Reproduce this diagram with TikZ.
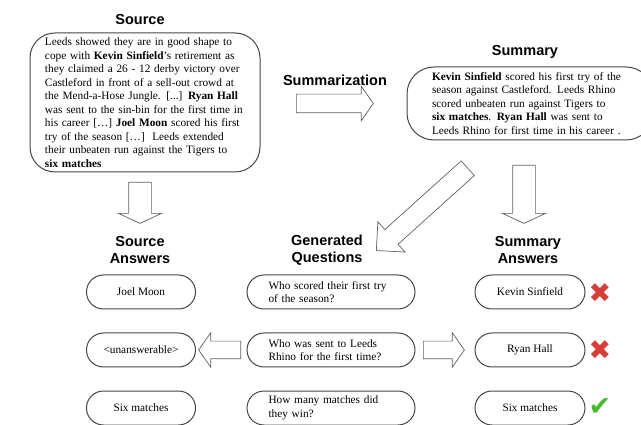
\documentclass[tikz,border=0pt]{standalone}
\usepackage{fontspec}
\setmainfont{Liberation Serif}
\newfontfamily\headfont{Liberation Sans}
\newfontfamily\symbfont{DejaVu Sans}
\usetikzlibrary{shapes.misc,shapes.arrows,positioning}
\definecolor{edge}{RGB}{70,70,70}
\definecolor{wrong}{RGB}{214,62,56}
\definecolor{okgreen}{RGB}{72,184,44}

\begin{document}
\begin{tikzpicture}[x=1pt,y=-1pt,
  title/.style={font=\headfont\bfseries\fontsize{14.5}{16.5}\selectfont,align=center,inner sep=0pt},
  body/.style={font=\fontsize{11.3}{13.5}\selectfont},
  bigbox/.style={rectangle,draw=edge,line width=1pt,align=left,inner sep=0pt,body},
  pill/.style={rounded rectangle,draw=edge,line width=1pt,minimum height=34pt,inner sep=0pt,body},
  blockarrow/.style={single arrow,draw=edge!85,line width=0.7pt,fill=white,inner xsep=0pt,anchor=tail},
  verdict/.style={font=\symbfont\fontsize{27}{27}\selectfont,inner sep=0pt}]
  \useasboundingbox (0,0) rectangle (641,425);

  % top row
  \node[title] (srctitle) at (140,20) {Source};
  \node[bigbox,minimum width=230pt,minimum height=139pt,rounded corners=25pt,text width=200pt] (src) at (145,102.5)
    {Leeds showed they are in good shape to\\
     cope with \textbf{Kevin Sinfield}'s retirement as\\
     they claimed a 26 - 12 derby victory over\\
     Castleford in front of a sell-out crowd at\\
     the Mend-a-Hose Jungle. [...] \textbf{Ryan Hall}\\
     was sent to the sin-bin for the first time in\\
     his career […] \textbf{Joel Moon} scored his first\\
     try of the season […]\ \ Leeds extended\\
     their unbeaten run against the Tigers to\\
     \textbf{six matches}};
  \node[title] (sumtitle) at (335,80) {Summarization};
  \node[title] (summtitle) at (525,52) {Summary};
  \node[bigbox,minimum width=246pt,minimum height=73pt,rounded corners=27pt,text width=196pt] (summ) at (530,103.5)
    {\textbf{Kevin Sinfield} scored his first try of the\\
     season against Castleford. Leeds Rhino\\
     scored unbeaten run against Tigers to\\
     \textbf{six matches}. \textbf{Ryan Hall} was sent to\\
     Leeds Rhino for first time in his career .};

  % block arrows
  \node[blockarrow,minimum height=77pt,minimum width=34pt,inner ysep=9pt,single arrow head extend=8pt,single arrow tip angle=110] (sumarrow) at (296,103.5) {};
  \node[blockarrow,rotate=-90,minimum height=41pt,minimum width=42pt,inner ysep=11pt,single arrow head extend=10pt,single arrow tip angle=130] (srcdown) at (140,182) {};
  \node[blockarrow,rotate=-90,minimum height=58pt,minimum width=42pt,inner ysep=11pt,single arrow head extend=10pt,single arrow tip angle=130] (summdown) at (524,165) {};
  \node[blockarrow,rotate=222,minimum height=123pt,minimum width=40pt,inner ysep=9.5pt,single arrow head extend=10.5pt,single arrow tip angle=90] (qarrow) at (468,168) {};

  % column titles
  \node[title] (srcans) at (140,250) {Source\\Answers};
  \node[title] (genq) at (327,250) {Generated\\Questions};
  \node[title] (summans) at (528,250) {Summary\\Answers};

  % answers and questions
  \node[pill,minimum width=109pt] (a1) at (141,292) {Joel Moon};
  \node[pill,minimum width=168pt,text width=125pt,align=left] (q1) at (331,292) {Who scored their first try\\of the season?};
  \node[pill,minimum width=110pt] (b1) at (530,292) {Kevin Sinfield};
  \node[pill,minimum width=109pt] (a2) at (141,350) {<unanswerable>};
  \node[pill,minimum width=168pt,text width=125pt,align=left] (q2) at (331,350) {Who was sent to Leeds\\Rhino for the first time?};
  \node[pill,minimum width=110pt] (b2) at (530,350) {Ryan Hall};
  \node[pill,minimum width=109pt] (a3) at (141,408) {Six matches};
  \node[pill,minimum width=168pt,text width=125pt,align=left] (q3) at (331,408) {How many matches did\\they win?};
  \node[pill,minimum width=110pt] (b3) at (530,408) {Six matches};

  \node[blockarrow,rotate=180,minimum height=42pt,minimum width=34pt,inner ysep=8.5pt,single arrow head extend=8.5pt,single arrow tip angle=110] (toleft) at (241,350) {};
  \node[blockarrow,minimum height=41pt,minimum width=34pt,inner ysep=8.5pt,single arrow head extend=8.5pt,single arrow tip angle=110] (toright) at (423,350) {};

  \node[verdict,text=wrong] (v1) at (600,293) {✖};
  \node[verdict,text=wrong] (v2) at (600,350) {✖};
  \node[verdict,text=okgreen] (v3) at (600,407) {✔};
\end{tikzpicture}
\end{document}
